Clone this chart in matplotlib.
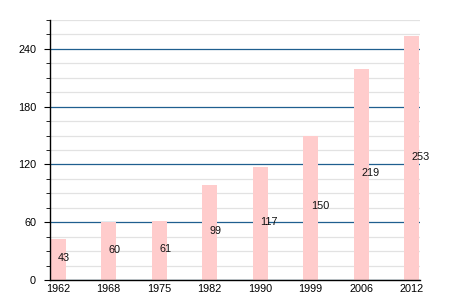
import matplotlib
matplotlib.use("Agg")
import matplotlib.pyplot as plt
import numpy as np
from matplotlib.ticker import MultipleLocator

# ── 数据 ──
years = ["1962", "1968", "1975", "1982", "1990", "1999", "2006", "2012"]
population = [43, 60, 61, 99, 117, 150, 219, 253]

plt.rcParams["font.family"] = ["Liberation Sans", "DejaVu Sans"]

fig = plt.figure(figsize=(4.5, 3), dpi=100)
ax = fig.add_axes([0.111, 0.0667, 0.822, 0.8666])

x = np.arange(len(years))

# 网格：主线深蓝，次线浅灰
ax.yaxis.set_major_locator(MultipleLocator(60))
ax.yaxis.set_minor_locator(MultipleLocator(15))
ax.grid(True, which="minor", axis="y", color="#e2e2e2", linewidth=0.9, zorder=0)
ax.grid(True, which="major", axis="y", color="#1f5f8f", linewidth=0.9, zorder=1)
ax.set_axisbelow(True)

ax.bar(x, population, width=0.3, color="#ffcccc", zorder=2)

# 数值标签：放在柱子一半高度处，左对齐于柱中心
for xi, v in zip(x, population):
    ax.text(xi, v / 2 + 1.5, str(v), ha="left", va="center", fontsize=7.8,
            color="#111111", zorder=3)

ax.set_xlim(-0.16, len(years) - 1 + 0.16)
ax.set_ylim(0, 270)
ax.set_xticks(x)
ax.set_xticklabels(years)

for side in ("top", "right"):
    ax.spines[side].set_visible(False)
ax.spines["left"].set_linewidth(1.0)
ax.spines["bottom"].set_linewidth(1.0)

ax.tick_params(axis="x", length=0, labelsize=7.8, pad=3)
ax.tick_params(axis="y", which="major", length=4, labelsize=7.8, pad=6)
ax.tick_params(axis="y", which="minor", length=3)

fig.savefig("out.png", dpi=100)
plt.close(fig)
